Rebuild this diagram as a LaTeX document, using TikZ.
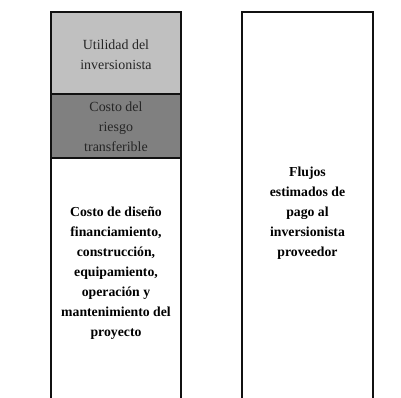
\documentclass[tikz,border=0pt]{standalone}
\usepackage{fontspec}
\setmainfont{Liberation Serif}
\definecolor{lightfill}{HTML}{C0C0C0}
\definecolor{darkfill}{HTML}{808080}
\definecolor{greytext}{HTML}{262626}
\definecolor{edge}{HTML}{111111}
\begin{document}
\begin{tikzpicture}[x=1bp,y=-1bp,
  edgeline/.style={draw=edge,line width=2.6bp},
  lbl/.style={align=center,font=\fontsize{14}{20}\selectfont,inner sep=0pt,text=black},
  boldlbl/.style={lbl,font=\fontsize{13.8}{20}\selectfont\bfseries},
  greylbl/.style={lbl,text=greytext}]
\useasboundingbox (0,0) rectangle (401,398);
% fills
\fill[lightfill] (51,12) rectangle (181,94);
\fill[darkfill] (51,94) rectangle (181,158);
% left column
\draw[edgeline] (51,405) -- (51,12) -- (181,12) -- (181,405);
\draw[edgeline] (51,94) -- (181,94);
\draw[edgeline] (51,158) -- (181,158);
% right column
\draw[edgeline] (242,405) -- (242,12) -- (373,12) -- (373,405);
% labels
\node[greylbl] (util) at (116,55) {Utilidad del\\inversionista};
\node[greylbl] (riesgo) at (116,127) {Costo del\\riesgo\\transferible};
\node[boldlbl] (costo) at (116,273) {Costo de diseño\\financiamiento,\\construcción,\\equipamiento,\\operación y\\mantenimiento del\\proyecto};
\node[boldlbl] (flujos) at (307.5,213) {Flujos\\estimados de\\pago al\\inversionista\\proveedor};
\end{tikzpicture}
\end{document}
